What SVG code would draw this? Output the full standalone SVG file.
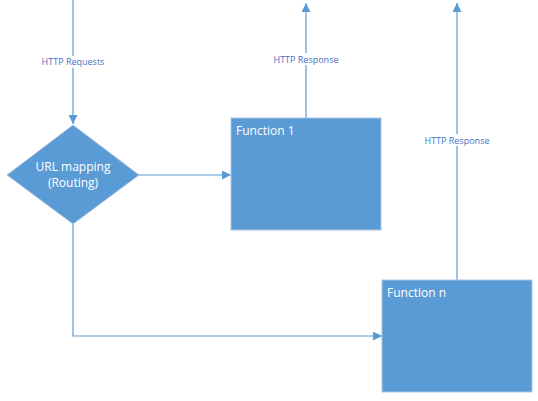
<svg xmlns="http://www.w3.org/2000/svg" width="538" height="401" viewBox="0 0 538 401">
<style>
.shape{fill:#5B9BD5;stroke:#A9C4E4;stroke-width:1}
.line{fill:none;stroke:#5B9BD5;stroke-width:1.2}
.lbl{font-family:"Open Sans","Liberation Sans",sans-serif;font-size:9px;fill:#4472C4;text-anchor:middle}
.node{font-family:"Open Sans","Liberation Sans",sans-serif;font-size:12px;fill:#FFFFFF}
</style>
<defs>
<marker id="arr" viewBox="0 0 10 10" refX="10" refY="5" markerWidth="9" markerHeight="9" markerUnits="userSpaceOnUse" orient="auto">
<path d="M0,0 L10,5 L0,10 Z" fill="#5B9BD5"/>
</marker>
</defs>
<rect width="538" height="401" fill="#FFFFFF"/>
<g id="connectors">
<path class="line" d="M73,0 V124" marker-end="url(#arr)"/>
<path class="line" d="M139,175 H231" marker-end="url(#arr)"/>
<path class="line" d="M306,118 V3" marker-end="url(#arr)"/>
<path class="line" d="M457,280 V3" marker-end="url(#arr)"/>
<path class="line" d="M73,224 V336 H382" marker-end="url(#arr)"/>
<rect x="40" y="56" width="66" height="12" fill="#FFFFFF"/>
<text class="lbl" x="73" y="65">HTTP Requests</text>
<rect x="271" y="53" width="70" height="12" fill="#FFFFFF"/>
<text class="lbl" x="306" y="63">HTTP Response</text>
<rect x="422" y="134" width="70" height="12" fill="#FFFFFF"/>
<text class="lbl" x="457" y="144">HTTP Response</text>
</g>
<g id="routing">
<polygon class="shape" points="73,125 139,175 73,224 7,175"/>
<text class="node" x="73" y="171" text-anchor="middle">URL mapping</text>
<text class="node" x="73" y="187" text-anchor="middle">(Routing)</text>
</g>
<g id="function1">
<rect class="shape" x="231" y="118" width="150" height="112"/>
<text class="node" x="236" y="135">Function 1</text>
</g>
<g id="functionn">
<rect class="shape" x="382" y="280" width="150" height="112"/>
<text class="node" x="387" y="297">Function n</text>
</g>
</svg>
